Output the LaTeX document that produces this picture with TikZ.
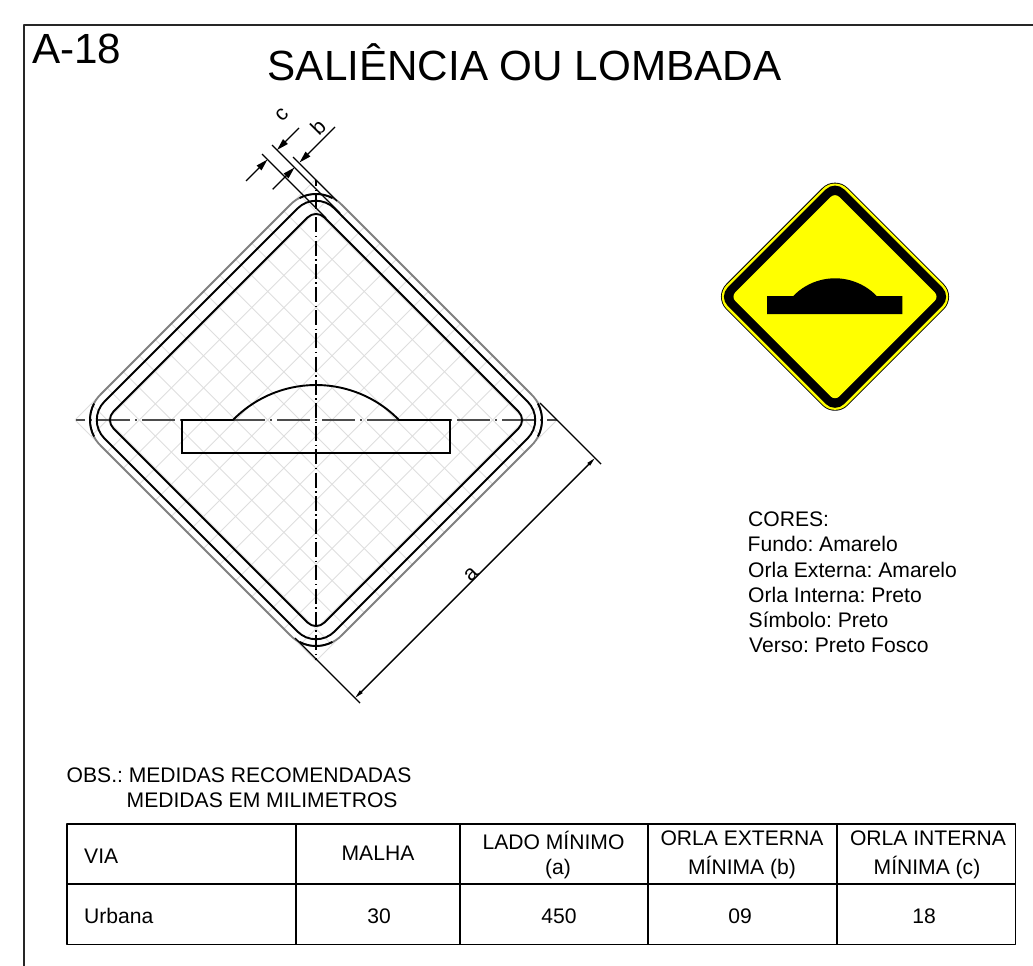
\documentclass[tikz,border=0pt]{standalone}
\usepackage{fontspec}
\setmainfont{Liberation Sans}
\usetikzlibrary{arrows.meta}
\definecolor{amarelo}{RGB}{255,255,0}
\newcommand{\tam}[1]{\fontsize{#1}{#1}\selectfont\frenchspacing}
\tikzset{
  linha/.style={line width=1.9pt,color=black},
  orla/.style={line width=1.8pt,color=black!50},
  malha/.style={line width=0.9pt,color=black!13},
  cota/.style={line width=1.4pt,color=black},
  texto/.style={anchor=base west,inner sep=0pt,font=\tam{21.1}},
  centro/.style={anchor=base,inner sep=0pt,font=\tam{21.1}},
  seta/.style={-{Triangle[length=12pt,width=6.5pt]}},
  setafina/.style={{Triangle[length=9pt,width=3.5pt]}-{Triangle[length=9pt,width=3.5pt]}}
}
\begin{document}
\begin{tikzpicture}[line cap=butt,line join=round,x=1pt,y=-1pt]
      \useasboundingbox (0,0) rectangle (1033,966);
      % moldura
      \draw[line width=1.6pt,color=black!85] (24,966) -- (24,25) -- (1033,25);
      \node[anchor=base west,inner sep=0pt,font=\tam{42.2}] (codigo) at (32,63.5) {A-18};
      \node[anchor=base,inner sep=0pt,font=\tam{42.2}] (titulo) at (524.5,81) {SALIÊNCIA OU LOMBADA};
      % malha
      \begin{scope}[shift={(316,420)},rotate=45]
        \foreach \k in {0,...,15} {
          \draw[malha] (-170.4+\k*22.72,-170.4) -- ++(0,340.8);
          \draw[malha] (-170.4,-170.4+\k*22.72) -- ++(340.8,0);
        }
      \end{scope}
      % eixos
      \draw[line width=1.4pt,color=black!70,dash pattern=on 33pt off 5pt on 2pt off 5pt,dash phase=24pt] (76,420) -- (557,420);
      \draw[line width=1.1pt,color=black,dash pattern=on 15pt off 3.5pt on 1.5pt off 3.2pt,dash phase=9pt] (316,180) -- (316,660);
      % placa
      \begin{scope}[shift={(316,420)}]
        \draw[orla,rounded corners=36pt] (241,0) -- (0,241) -- (-241,0) -- (0,-241) -- cycle;
        \foreach \h/\r in {211/12,230/26}
        \draw[linha,rounded corners=\r pt] (\h,0) -- (0,\h) -- (-\h,0) -- (0,-\h) -- cycle;
        \foreach \ang in {0,90,180,270}
        \draw[linha] (\ang:191) ++(\ang-28:35) arc[start angle=\ang-28,delta angle=56,radius=35];
      \end{scope}
      % simbolo
      \draw[linha,line join=miter] (233,420) -- (182,420) -- (182,453) -- (450,453) -- (450,420) -- (399,420) arc[start angle=-44.3,end angle=-135.7,radius=116];
      % cotas
      \coordinate (c1) at (262,154);
      \coordinate (c2) at (326,218);
      \coordinate (c3) at (272,145);
      \coordinate (c4) at (340,213);
      \coordinate (b1) at (293,157);
      \coordinate (b2) at (337,201);
      \draw[cota] (c1) -- (c2);
      \draw[cota] (c3) -- (c4);
      \draw[cota] (b1) -- (b2);
      \draw[cota,seta] (246,181) -- (267.5,159.5);
      \draw[cota,seta] (299,128) -- (277,150);
      \draw[cota,seta] (272.7,189.3) -- (294.5,167.5);
      \draw[cota,seta] (335,127) -- (299.5,162.5);
      \coordinate (a1) at (540,403);
      \coordinate (a2) at (601,464);
      \coordinate (a3) at (295,638);
      \coordinate (a4) at (360,703);
      \draw[cota] (a1) -- (a2);
      \draw[cota] (a3) -- (a4);
      \draw[cota,setafina] (355,698) -- (595,458);
      \node[inner sep=0pt,rotate=45,font=\tam{21.1}] (cotac) at (282,115) {c};
      \node[inner sep=0pt,rotate=45,font=\tam{21.1}] (cotab) at (318,127) {b};
      \node[inner sep=0pt,rotate=45,font=\tam{21.1}] (cotaa) at (471,574) {a};
      % placa colorida
      \begin{scope}[shift={(835,296.7)}]
        \foreach \h/\r/\cor in {121.5/18/black,120.2/17/amarelo,116.5/13/black,104/6/amarelo}
        \fill[\cor,rounded corners=\r pt] (\h,0) -- (0,\h) -- (-\h,0) -- (0,-\h) -- cycle;
      \end{scope}
      \fill[black] (793.3,296) -- (767,296) -- (767,314) -- (902.3,314) -- (902.3,296) -- (876.7,296) arc[start angle=-44,end angle=-136,radius=58] -- cycle;
      % cores
      \node[texto] (cor1) at (748,526.7) {CORES:};
      \node[texto] (cor2) at (747.5,551.7) {Fundo: Amarelo};
      \node[texto] (cor3) at (748,577) {Orla Externa: Amarelo};
      \node[texto] (cor4) at (748,602) {Orla Interna: Preto};
      \node[texto] (cor5) at (748.5,627.5) {Símbolo: Preto};
      \node[texto] (cor6) at (749,652.7) {Verso: Preto Fosco};
      % tabela
      \node[texto] (obs1) at (66.5,782.7) {OBS.: MEDIDAS RECOMENDADAS};
      \node[texto] (obs2) at (126.5,807) {MEDIDAS EM MILIMETROS};
      \draw[linha] (67,824) rectangle (1015.5,944.5);
      \draw[linha] (67,884.3) -- (1015.5,884.3);
      \foreach \x in {296,460,648,837}
      \draw[linha] (\x,824) -- (\x,944.5);
      \node[texto] (via) at (84,863) {VIA};
      \node[centro] (hmalha) at (378,860.5) {MALHA};
      \node[centro] (hlado) at (553.5,849) {LADO MÍNIMO};
      \node[centro] (hladoa) at (558,874) {(a)};
      \node[centro] (hext) at (742,845) {ORLA EXTERNA};
      \node[centro] (hextb) at (742,874) {MÍNIMA (b)};
      \node[centro] (hint) at (928,845) {ORLA INTERNA};
      \node[centro] (hintc) at (927,874) {MÍNIMA (c)};
      \node[texto] (urbana) at (84,923) {Urbana};
      \node[centro] (v30) at (379,923) {30};
      \node[centro] (v450) at (559,923) {450};
      \node[centro] (v09) at (740,923) {09};
      \node[centro] (v18) at (924,923) {18};
    \end{tikzpicture}
\end{document}
